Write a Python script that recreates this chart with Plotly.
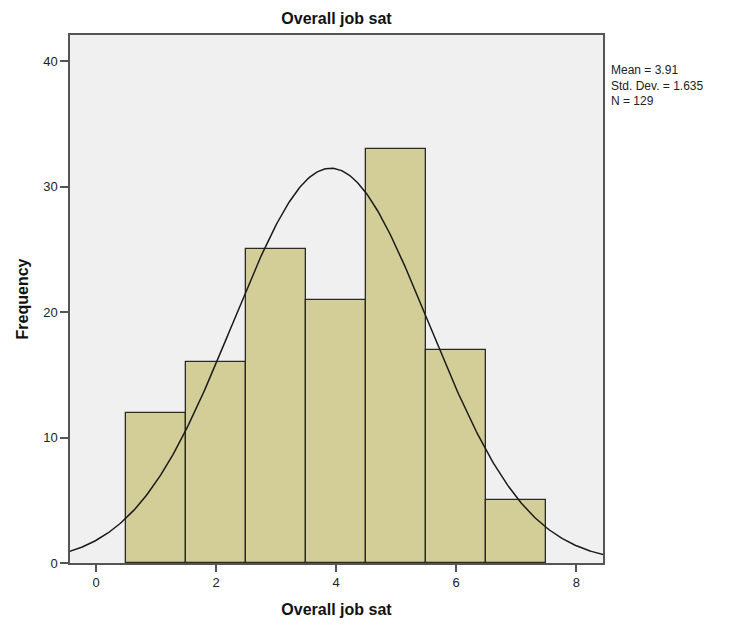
import numpy as np
import plotly.graph_objects as go

categories = [1, 2, 3, 4, 5, 6, 7]
frequencies = [12, 16, 25, 21, 33, 17, 5]
mean_val = 3.91
std_val = 1.635
n_val = 129
x_ticks = [0, 2, 4, 6, 8]
y_ticks = [0, 10, 20, 30, 40]

fig = go.Figure()
fig.add_trace(go.Bar(
    x=categories, y=frequencies, width=1.0,
    marker=dict(color="#D3CE97", line=dict(color="#2a2a22", width=1.3)),
    hoverinfo="x+y", showlegend=False,
))

xs = np.linspace(-0.5, 8.5, 400)
ys = n_val * 1.0 / (std_val * np.sqrt(2 * np.pi)) * np.exp(-0.5 * ((xs - mean_val) / std_val) ** 2)
fig.add_trace(go.Scatter(x=xs, y=ys, mode="lines",
                         line=dict(color="#1a1a1a", width=1.5), showlegend=False,
                         hoverinfo="skip"))

W, H = 716, 610
L, R, T, B = 62, 121, 27, 55
fig.update_layout(
    width=W, height=H,
    margin=dict(l=L, r=R, t=T, b=B, autoexpand=False),
    paper_bgcolor="white", plot_bgcolor="#F0F0F0",
    font=dict(family="Liberation Sans, Arial, sans-serif", color="#222222", size=13),
    title=dict(text="<b>Overall job sat</b>", x=(L + (W - R)) / 2 / W, xanchor="center",
               y=1 - 10 / H, yanchor="middle", font=dict(size=16, color="#111111")),
    bargap=0,
    annotations=[dict(
        text=f"Mean = {mean_val}<br>Std. Dev. = {std_val}<br>N = {n_val}",
        xref="paper", yref="paper", x=1.0, y=1.0, xshift=6, yshift=-26,
        xanchor="left", yanchor="top", align="left", showarrow=False,
        font=dict(size=12, color="#222222"),
    )],
)

fig.update_xaxes(
    range=[-0.433, 8.445], tickvals=x_ticks, ticks="outside", ticklen=7, tickwidth=1.5,
    tickcolor="#555555", showgrid=False, zeroline=False, automargin=False,
    showline=True, linecolor="#555555", linewidth=1.5, mirror=True,
    title=dict(text="<b>Overall job sat</b>", font=dict(size=16, color="#111111"), standoff=15),
    tickfont=dict(size=13),
)
fig.update_yaxes(
    range=[0, 42.1], tickvals=y_ticks, ticks="outside", ticklen=8, tickwidth=1.5,
    tickcolor="#555555", showgrid=False, zeroline=False, automargin=False,
    showline=True, linecolor="#555555", linewidth=1.5, mirror=True,
    title=dict(text="<b>Frequency</b>", font=dict(size=16, color="#111111"), standoff=11),
    tickfont=dict(size=13),
)

fig.write_html("out.html")
